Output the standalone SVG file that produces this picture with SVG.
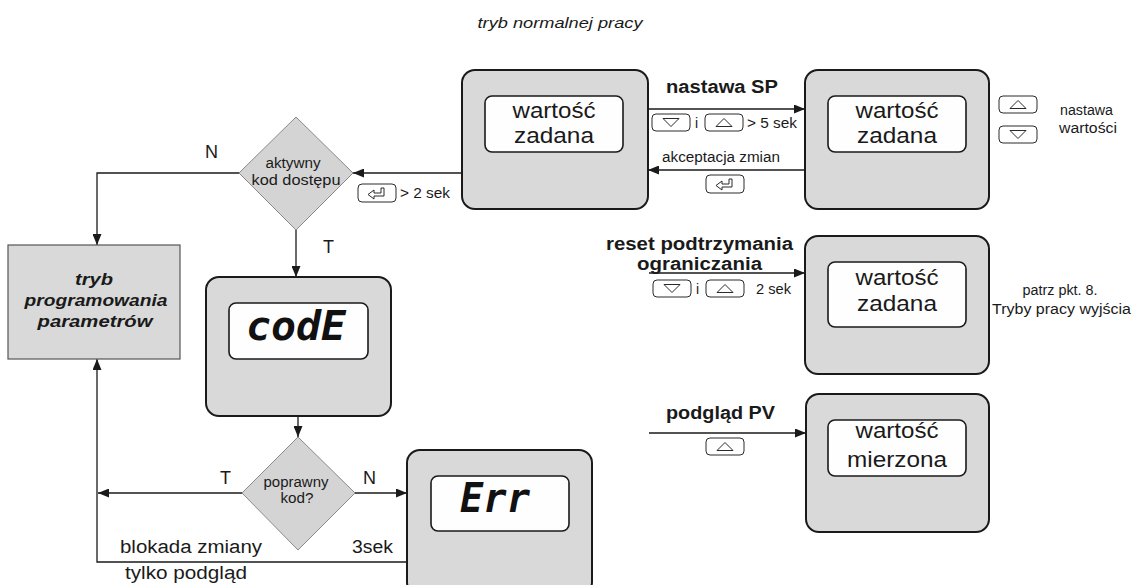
<svg xmlns="http://www.w3.org/2000/svg" width="1135" height="585" viewBox="0 0 1135 585">
  <style>
    .bg { fill: #ffffff; }
    .dev { fill: #d9d9d9; stroke: #1a1a1a; stroke-width: 2; }
    .lcd { fill: #fefefe; stroke: #1a1a1a; stroke-width: 1.6; }
    .dia { fill: #d4d4d4; stroke: #8a8a8a; stroke-width: 1; }
    .mode { fill: #d9d9d9; stroke: #555555; stroke-width: 1.2; }
    .wire { fill: none; stroke: #1a1a1a; stroke-width: 1.3; }
    .key { fill: #ffffff; stroke: #2a2a2a; stroke-width: 1; }
    .glyph { fill: none; stroke: #2a2a2a; stroke-width: 1; }
    text { font-family: "Liberation Sans", Arial, sans-serif; fill: #1a1a1a; }
    .big { font-size: 22px; text-anchor: middle; }
    .sm { font-size: 14px; }
    .mid { text-anchor: middle; }
    .bold { font-size: 18px; font-weight: bold; }
    .yn { font-size: 18px; }
    .lbl { font-size: 18px; }
    .title { font-size: 15px; font-style: italic; text-anchor: middle; }
    .modet { font-size: 17px; font-weight: bold; font-style: italic; text-anchor: middle; }
    .seg { font-family: "DejaVu Sans Mono", "Liberation Mono", monospace; font-size: 40px; font-weight: bold; font-style: italic; fill: #111111; }
  </style>
  <defs>
    <marker id="arrow" markerUnits="userSpaceOnUse" markerWidth="11" markerHeight="9" refX="11" refY="4.5" orient="auto">
      <path d="M0,0 L11,4.5 L0,9 z" fill="#1a1a1a"/>
    </marker>
    <g id="key-up">
      <rect class="key" x="0" y="0" width="38" height="17" rx="4"/>
      <path class="glyph" d="M11,12.5 L27,12.5 L19,4.5 z"/>
    </g>
    <g id="key-down">
      <rect class="key" x="0" y="0" width="38" height="17" rx="4"/>
      <path class="glyph" d="M11,4.5 L27,4.5 L19,12.5 z"/>
    </g>
    <g id="key-enter">
      <rect class="key" x="0" y="0" width="38" height="18" rx="4"/>
      <path class="glyph" d="M26,4 L26,12 L16,12 L16,15 L10,10.5 L16,6 L16,9 L23,9 L23,4 z"/>
    </g>
  </defs>

  <rect class="bg" x="0" y="0" width="1135" height="585"/>

  <text class="title" x="560" y="28" textLength="165" lengthAdjust="spacingAndGlyphs">tryb normalnej pracy</text>

  <!-- connectors -->
  <g id="connectors">
    <line class="wire" x1="648" y1="109" x2="805" y2="109" marker-end="url(#arrow)"/>
    <line class="wire" x1="804" y1="170" x2="648" y2="170" marker-end="url(#arrow)"/>
    <line class="wire" x1="462" y1="173" x2="353" y2="173" marker-end="url(#arrow)"/>
    <polyline class="wire" points="239,173 97,173 97,245" marker-end="url(#arrow)"/>
    <line class="wire" x1="296" y1="230" x2="296" y2="277" marker-end="url(#arrow)"/>
    <line class="wire" x1="298" y1="416" x2="298" y2="437" marker-end="url(#arrow)"/>
    <line class="wire" x1="242" y1="493" x2="98" y2="493" marker-end="url(#arrow)"/>
    <line class="wire" x1="355" y1="493" x2="407" y2="493" marker-end="url(#arrow)"/>
    <polyline class="wire" points="407,562 97,562 97,359" marker-end="url(#arrow)"/>
    <line class="wire" x1="649" y1="273" x2="805" y2="273" marker-end="url(#arrow)"/>
    <line class="wire" x1="649" y1="433" x2="806" y2="433" marker-end="url(#arrow)"/>

    <!-- labels on the connectors -->
    <text class="bold" x="666" y="93" textLength="112" lengthAdjust="spacingAndGlyphs">nastawa SP</text>
    <use href="#key-down" x="652" y="114"/>
    <text class="sm" x="695" y="128">i</text>
    <use href="#key-up" x="705" y="114"/>
    <text class="sm" x="747" y="128" textLength="50" lengthAdjust="spacingAndGlyphs">&gt; 5 sek</text>

    <text class="sm" x="662" y="162" textLength="118" lengthAdjust="spacingAndGlyphs">akceptacja zmian</text>
    <use href="#key-enter" x="706" y="175"/>

    <use href="#key-enter" x="358" y="184"/>
    <text class="sm" x="400" y="198" textLength="50" lengthAdjust="spacingAndGlyphs">&gt; 2 sek</text>

    <text class="yn" x="205" y="158">N</text>
    <text class="yn" x="323" y="253">T</text>
    <text class="yn" x="220" y="484">T</text>
    <text class="yn" x="363" y="484">N</text>

    <text class="lbl" x="120" y="553" textLength="142" lengthAdjust="spacingAndGlyphs">blokada zmiany</text>
    <text class="lbl" x="125" y="579" textLength="122" lengthAdjust="spacingAndGlyphs">tylko podgląd</text>
    <text class="lbl" x="352" y="553" textLength="41" lengthAdjust="spacingAndGlyphs">3sek</text>

    <text class="bold" x="606" y="250" textLength="187" lengthAdjust="spacingAndGlyphs">reset podtrzymania</text>
    <text class="bold" x="637" y="270" textLength="125" lengthAdjust="spacingAndGlyphs">ograniczania</text>
    <use href="#key-down" x="653" y="280"/>
    <text class="sm" x="696" y="294">i</text>
    <use href="#key-up" x="706" y="280"/>
    <text class="sm" x="756" y="294" textLength="35" lengthAdjust="spacingAndGlyphs">2 sek</text>

    <text class="bold" x="666" y="419" textLength="109" lengthAdjust="spacingAndGlyphs">podgląd PV</text>
    <use href="#key-up" x="706" y="438"/>
  </g>

  <!-- set point display, normal mode -->
  <g id="sp-display">
    <rect class="dev" x="462" y="70" width="186" height="139" rx="13"/>
    <rect class="lcd" x="485" y="96" width="138" height="56" rx="7"/>
    <text class="big" x="554" y="118" textLength="83" lengthAdjust="spacingAndGlyphs">wartość</text>
    <text class="big" x="554" y="143" textLength="80" lengthAdjust="spacingAndGlyphs">zadana</text>
  </g>

  <!-- set point edit -->
  <g id="sp-edit">
    <rect class="dev" x="805" y="70" width="184" height="139" rx="13"/>
    <rect class="lcd" x="828" y="96" width="138" height="56" rx="7"/>
    <text class="big" x="897" y="118" textLength="83" lengthAdjust="spacingAndGlyphs">wartość</text>
    <text class="big" x="897" y="143" textLength="80" lengthAdjust="spacingAndGlyphs">zadana</text>
    <use href="#key-up" x="999" y="96"/>
    <use href="#key-down" x="999" y="126"/>
    <text class="sm" x="1060" y="115" textLength="53" lengthAdjust="spacingAndGlyphs">nastawa</text>
    <text class="sm" x="1059" y="133" textLength="58" lengthAdjust="spacingAndGlyphs">wartości</text>
  </g>

  <!-- hold reset -->
  <g id="hold-reset">
    <rect class="dev" x="805" y="236" width="184" height="138" rx="13"/>
    <rect class="lcd" x="828" y="262" width="138" height="65" rx="7"/>
    <text class="big" x="897" y="285" textLength="83" lengthAdjust="spacingAndGlyphs">wartość</text>
    <text class="big" x="897" y="311" textLength="80" lengthAdjust="spacingAndGlyphs">zadana</text>
    <text class="sm mid" x="1060" y="295" textLength="75" lengthAdjust="spacingAndGlyphs">patrz pkt. 8.</text>
    <text class="sm" x="992" y="314" textLength="139" lengthAdjust="spacingAndGlyphs">Tryby pracy wyjścia</text>
  </g>

  <!-- measured value view -->
  <g id="pv-view">
    <rect class="dev" x="806" y="394" width="183" height="138" rx="13"/>
    <rect class="lcd" x="828" y="420" width="138" height="56" rx="7"/>
    <text class="big" x="897" y="438" textLength="83" lengthAdjust="spacingAndGlyphs">wartość</text>
    <text class="big" x="897" y="467" textLength="100" lengthAdjust="spacingAndGlyphs">mierzona</text>
  </g>

  <!-- access code question -->
  <g id="code-active">
    <polygon class="dia" points="296,117 353,173 296,230 239,173"/>
    <text class="sm mid" x="293" y="168" textLength="55" lengthAdjust="spacingAndGlyphs">aktywny</text>
    <text class="sm mid" x="296" y="185" textLength="89" lengthAdjust="spacingAndGlyphs">kod dostępu</text>
  </g>

  <!-- programming mode -->
  <g id="prog-mode">
    <rect class="mode" x="8" y="245" width="172" height="114"/>
    <text class="modet" x="94" y="285" textLength="38" lengthAdjust="spacingAndGlyphs">tryb</text>
    <text class="modet" x="96" y="306" textLength="143" lengthAdjust="spacingAndGlyphs">programowania</text>
    <text class="modet" x="95" y="327" textLength="115" lengthAdjust="spacingAndGlyphs">parametrów</text>
  </g>

  <!-- code entry -->
  <g id="code-entry">
    <rect class="dev" x="206" y="277" width="185" height="139" rx="13"/>
    <rect class="lcd" x="229" y="303" width="139" height="56" rx="7"/>
    <text class="seg" x="296" y="340" text-anchor="middle" textLength="100" lengthAdjust="spacingAndGlyphs">codE</text>
  </g>

  <!-- code check -->
  <g id="code-check">
    <polygon class="dia" points="298,437 355,493 298,550 242,493"/>
    <text class="sm mid" x="296" y="487" textLength="65" lengthAdjust="spacingAndGlyphs">poprawny</text>
    <text class="sm mid" x="297" y="503" textLength="33" lengthAdjust="spacingAndGlyphs">kod?</text>
  </g>

  <!-- error display -->
  <g id="code-error">
    <rect class="dev" x="407" y="450" width="185" height="145" rx="13"/>
    <rect class="lcd" x="431" y="476" width="138" height="55" rx="7"/>
    <text class="seg" x="460" y="512" textLength="70" lengthAdjust="spacingAndGlyphs">Err</text>
  </g>
</svg>
